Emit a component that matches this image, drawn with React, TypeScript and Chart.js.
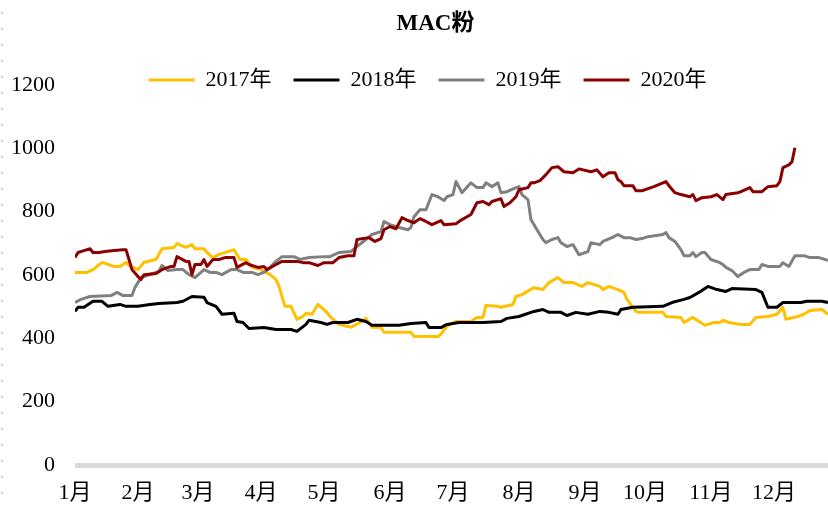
import React, { useEffect, useRef } from "react";
import { Chart, registerables } from "chart.js";

Chart.register(...registerables);

const FONT = "'Liberation Serif', 'Noto Sans CJK SC', serif";

const chartTitle = "MAC粉";
const seriesNames = ["2017年", "2018年", "2019年", "2020年"];
const seriesColors = ["#FFC000", "#000000", "#808080", "#8B0000"];
const monthLabels = ["1月", "2月", "3月", "4月", "5月", "6月", "7月", "8月", "9月", "10月", "11月", "12月"];
const monthTickDays = [0, 21, 41, 62, 83, 105, 126, 148, 170, 190, 212, 233];
const yTickValues = [0, 200, 400, 600, 800, 1000, 1200];

// trading-day index within the year and price values
const days2017 = [0, 4, 6, 9, 13, 15, 17, 18, 21, 23, 27, 29, 33, 34, 37, 39, 40, 43, 44, 46, 48, 51, 53, 55, 57, 59, 62, 65, 67, 68, 70, 72, 74, 76, 77, 79, 81, 84, 85, 88, 92, 95, 97, 99, 102, 103, 112, 113, 121, 122, 124, 127, 132, 134, 136, 137, 141, 142, 146, 147, 149, 153, 156, 158, 161, 163, 166, 169, 171, 175, 176, 178, 181, 183, 184, 187, 188, 196, 197, 202, 203, 206, 208, 210, 213, 215, 216, 218, 222, 225, 227, 231, 234, 236, 237, 241, 243, 245, 249, 251];
const values2017 = [608, 608, 617, 640, 627, 627, 640, 630, 617, 640, 649, 683, 687, 699, 687, 696, 683, 683, 671, 655, 665, 674, 680, 649, 649, 624, 617, 601, 586, 564, 501, 501, 460, 469, 479, 476, 507, 482, 469, 444, 435, 450, 463, 435, 435, 419, 419, 406, 406, 413, 438, 453, 453, 466, 466, 504, 501, 498, 507, 532, 538, 560, 554, 576, 592, 576, 576, 564, 576, 564, 554, 564, 554, 545, 523, 485, 482, 482, 469, 466, 450, 466, 453, 441, 450, 450, 457, 450, 444, 444, 466, 469, 476, 498, 460, 469, 476, 488, 491, 476];

const days2018 = [0, 1, 3, 6, 9, 11, 15, 17, 21, 25, 28, 34, 36, 39, 43, 44, 47, 49, 53, 54, 56, 58, 63, 67, 72, 74, 77, 78, 82, 84, 86, 91, 94, 97, 99, 108, 112, 117, 118, 122, 124, 128, 136, 142, 144, 148, 153, 156, 158, 162, 164, 167, 171, 175, 178, 181, 182, 186, 196, 199, 203, 205, 208, 211, 214, 217, 219, 227, 229, 231, 234, 236, 242, 244, 249, 251];
const values2018 = [485, 498, 498, 517, 517, 501, 507, 501, 501, 507, 510, 513, 517, 532, 530, 513, 501, 476, 479, 453, 450, 431, 434, 428, 428, 422, 444, 457, 450, 444, 450, 450, 460, 453, 441, 441, 447, 450, 434, 434, 444, 450, 450, 453, 463, 469, 485, 491, 482, 482, 472, 482, 476, 485, 482, 476, 491, 498, 501, 513, 523, 529, 545, 564, 554, 548, 557, 554, 545, 498, 498, 513, 513, 517, 517, 513];

const days2019 = [0, 2, 5, 12, 14, 16, 19, 20, 22, 28, 29, 31, 34, 36, 38, 40, 43, 45, 47, 49, 52, 54, 56, 59, 61, 63, 65, 67, 69, 73, 75, 78, 83, 85, 88, 92, 94, 97, 99, 102, 103, 105, 108, 111, 112, 113, 115, 117, 119, 121, 123, 124, 126, 127, 129, 132, 134, 136, 137, 139, 141, 142, 144, 146, 148, 149, 151, 152, 154, 156, 157, 159, 161, 162, 164, 166, 168, 171, 172, 175, 176, 179, 181, 183, 185, 187, 189, 191, 196, 197, 198, 200, 202, 203, 205, 206, 207, 209, 210, 212, 215, 216, 217, 219, 221, 223, 225, 228, 229, 231, 235, 236, 238, 240, 243, 245, 248, 251];
const values2019 = [513, 523, 532, 535, 545, 535, 535, 561, 592, 611, 630, 614, 617, 617, 601, 592, 617, 608, 608, 601, 617, 617, 608, 608, 601, 608, 624, 643, 658, 658, 649, 655, 658, 658, 671, 674, 690, 712, 728, 737, 769, 759, 750, 743, 750, 784, 806, 806, 854, 847, 835, 847, 854, 895, 860, 891, 876, 876, 891, 879, 891, 860, 863, 872, 879, 854, 838, 775, 743, 712, 702, 712, 718, 702, 690, 696, 664, 674, 702, 696, 706, 718, 728, 718, 718, 712, 715, 721, 728, 734, 718, 706, 680, 661, 661, 671, 658, 671, 671, 649, 639, 633, 624, 614, 595, 608, 617, 617, 633, 627, 627, 639, 627, 661, 661, 655, 655, 646];

const days2020 = [0, 1, 3, 5, 6, 8, 10, 13, 16, 17, 18, 19, 21, 22, 23, 27, 29, 32, 33, 34, 37, 38, 39, 40, 42, 43, 44, 46, 48, 50, 53, 54, 57, 58, 61, 63, 64, 67, 69, 74, 76, 78, 81, 83, 85, 86, 88, 91, 93, 94, 98, 100, 102, 103, 105, 107, 109, 111, 113, 115, 117, 119, 122, 123, 127, 129, 132, 134, 136, 138, 139, 142, 143, 145, 147, 148, 151, 152, 153, 155, 157, 159, 161, 163, 166, 168, 172, 174, 176, 178, 180, 181, 182, 183, 186, 187, 189, 193, 196, 197, 198, 200, 202, 205, 206, 207, 209, 212, 214, 216, 217, 221, 222, 225, 226, 229, 231, 234, 235, 236, 238, 239, 240];
const values2020 = [655, 671, 677, 683, 671, 671, 674, 677, 680, 680, 649, 617, 595, 586, 601, 605, 617, 627, 627, 658, 643, 643, 601, 633, 633, 649, 627, 649, 649, 655, 655, 624, 639, 633, 624, 627, 617, 633, 643, 643, 639, 639, 630, 639, 639, 639, 655, 661, 661, 712, 718, 706, 715, 743, 753, 746, 781, 772, 765, 778, 769, 759, 772, 759, 762, 775, 791, 828, 832, 822, 832, 841, 816, 828, 847, 869, 876, 891, 891, 898, 917, 939, 942, 926, 923, 935, 926, 932, 910, 923, 923, 901, 895, 882, 882, 866, 866, 879, 891, 895, 882, 860, 854, 847, 854, 835, 844, 847, 854, 838, 854, 860, 863, 876, 863, 863, 879, 882, 895, 939, 948, 957, 1002];

const seriesDays = [days2017, days2018, days2019, days2020];
const seriesValues = [values2017, values2018, values2019, values2020];

// lets the legend (which takes almost no layout height) draw over the top of the plot area
const legendOverlay = {
  id: "legendOverlay",
  afterLayout(chart: any) {
    const lg = chart.legend;
    if (lg) {
      lg.bottom = lg.top + 60;
      lg.height = 60;
      lg.left -= 8;
      lg.right -= 8;
    }
  },
};

export default function App() {
  const ref = useRef<HTMLCanvasElement | null>(null);

  useEffect(() => {
    if (!ref.current) return;
    const datasets = seriesNames.map((name, i) => ({
      label: name,
      data: seriesDays[i].map((d, j) => ({ x: d, y: seriesValues[i][j] })),
      borderColor: seriesColors[i],
      backgroundColor: seriesColors[i],
      pointBorderColor: seriesColors[i],
      pointBackgroundColor: seriesColors[i],
      pointBorderWidth: 3,
      borderWidth: 3,
      pointRadius: 0,
      pointHoverRadius: 0,
      tension: 0,
      fill: false,
      borderJoinStyle: "round" as const,
      order: seriesNames.length - i,
    }));

    const chart = new Chart(ref.current, {
      type: "line",
      data: { datasets },
      plugins: [legendOverlay],
      options: {
        responsive: false,
        animation: false,
        devicePixelRatio: 1,
        layout: { padding: { left: 11, right: 0, top: 0, bottom: 0 } },
        plugins: {
          title: {
            display: true,
            text: chartTitle,
            color: "#000",
            font: { family: FONT, size: 23, weight: "bold" },
            padding: { top: 10, bottom: 9.4 },
          },
          legend: {
            display: true,
            position: "top",
            maxHeight: 1,
            labels: {
              usePointStyle: true,
              pointStyle: "line",
              pointStyleWidth: 46,
              color: "#000",
              font: { family: FONT, size: 22 },
              padding: 22,
              sort: (a: any, b: any) => a.datasetIndex - b.datasetIndex,
            },
          },
          tooltip: { enabled: false },
        },
        scales: {
          x: {
            type: "linear",
            min: 0,
            max: 261.7,
            grid: { display: false, drawTicks: false },
            border: { display: false },
            ticks: {
              padding: 15,
              color: "#000",
              font: { family: FONT, size: 22 },
              maxRotation: 0,
              minRotation: 0,
              autoSkip: false,
              callback: (_v: any, index: number) => monthLabels[index] ?? "",
            },
            afterBuildTicks: (s: any) => {
              s.ticks = monthTickDays.map((v) => ({ value: v }));
            },
            afterFit: (s: any) => {
              s.height = 42;
            },
          },
          y: {
            type: "linear",
            min: 0,
            max: 1316.8,
            grid: {
              display: true,
              drawTicks: false,
              lineWidth: 5,
              color: (ctx: any) => (ctx.tick && ctx.tick.value === 0 ? "#D9D9D9" : "rgba(0,0,0,0)"),
            },
            border: { display: false },
            ticks: {
              padding: 20,
              color: "#000",
              font: { family: FONT, size: 22 },
              callback: (v: any) => String(v),
            },
            afterBuildTicks: (s: any) => {
              s.ticks = yTickValues.map((v) => ({ value: v }));
            },
            afterFit: (s: any) => {
              s.width = 64;
            },
          },
        },
      },
    });
    return () => chart.destroy();
  }, []);

  return (
    <div
      style={{
        position: "fixed",
        left: 0,
        top: 0,
        width: 828,
        height: 507,
        overflow: "hidden",
        background: "#fff",
      }}
    >
      <canvas ref={ref} width={860} height={507} style={{ width: 860, height: 507, display: "block" }} />
      <div
        style={{
          position: "absolute",
          left: 1,
          top: 0,
          width: 2,
          height: 507,
          backgroundImage:
            "repeating-linear-gradient(to bottom, transparent 0px, transparent 12px, #cfcfcf 12px, #cfcfcf 14px, transparent 14px, transparent 16px)",
        }}
      />
    </div>
  );
}
